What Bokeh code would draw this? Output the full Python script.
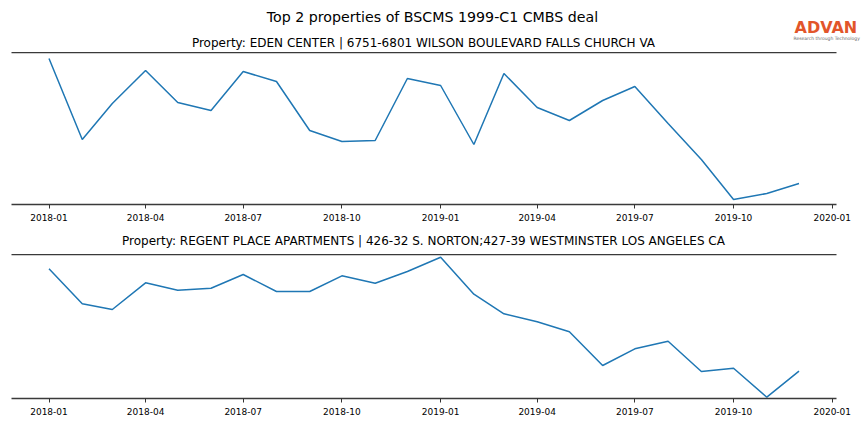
import pandas as pd
from bokeh.plotting import figure
from bokeh.layouts import column
from bokeh.models import (Range1d, MonthsTicker, DatetimeTickFormatter, Label,
                          DatetimeAxis, FixedTicker)
from bokeh.embed import file_html
from bokeh.resources import INLINE

TITLE = "Top 2 properties of BSCMS 1999-C1 CMBS deal"
SUB1 = "Property: EDEN CENTER | 6751-6801 WILSON BOULEVARD FALLS CHURCH VA"
SUB2 = "Property: REGENT PLACE APARTMENTS | 426-32 S. NORTON;427-39 WESTMINSTER LOS ANGELES CA"

months = ["2018-01", "2018-02", "2018-03", "2018-04", "2018-05", "2018-06",
          "2018-07", "2018-08", "2018-09", "2018-10", "2018-11", "2018-12",
          "2019-01", "2019-02", "2019-03", "2019-04", "2019-05", "2019-06",
          "2019-07", "2019-08", "2019-09", "2019-10", "2019-11", "2019-12"]

eden = [146, 65, 101, 134, 102, 94, 133, 123, 74, 63, 64, 126,
        119, 60, 131, 97, 84, 104, 118, 81, 45, 5, 11, 21]

regent = [129.7, 94.7, 89, 115.7, 108.3, 110.3, 124, 107, 107, 122.7, 115.3, 127,
          141.3, 104.3, 84.7, 76.7, 66.7, 33, 49.7, 57.3, 27, 30.3, 1.3, 27.3]

FONT = "DejaVu Sans"
LINE = "#1f77b4"
SPINE = "#3a3a3a"
W = 864
LEFT = 11      # page x of the axes' left edge
AXW = 825      # width of the axes area

dates = pd.to_datetime(months)
span = dates.max() - dates.min()
x_start = dates.min() - 0.05 * span   # matplotlib-style 5% margins
x_end = dates.max() + 0.05 * span
per_px = (x_end - x_start) / AXW
full_start = x_start - LEFT * per_px
full_end = x_end + (W - LEFT - AXW) * per_px


def header(height, texts):
    h = figure(frame_width=W, frame_height=height, output_backend="svg",
               toolbar_location=None,
               x_range=Range1d(0, W), y_range=Range1d(height, 0),
               x_axis_type=None, y_axis_type=None, min_border=0)
    h.outline_line_color = None
    h.grid.visible = False
    for (x, y, t, size, color, style, align) in texts:
        h.add_layout(Label(x=x, y=y, text=t, text_font=FONT, text_font_size=size,
                           text_color=color, text_font_style=style, text_align=align,
                           text_baseline="middle"))
    return h


def panel(vals, fh, ymax):
    p = figure(frame_width=W, frame_height=fh, output_backend="svg",
               toolbar_location=None, x_axis_type="datetime", y_axis_type=None,
               x_range=Range1d(full_start, full_end), y_range=Range1d(0, ymax),
               min_border=0, min_border_bottom=26)
    p.outline_line_color = None
    p.grid.visible = False
    p.line(dates, vals, line_color=LINE, line_width=1.5)
    ax = p.xaxis[0]
    ax.bounds = (x_start, x_end)
    ax.ticker = MonthsTicker(months=[0, 3, 6, 9])
    ax.formatter = DatetimeTickFormatter(days="%Y-%m", months="%Y-%m", years="%Y-%m")
    ax.axis_line_color = SPINE
    ax.axis_line_width = 1.6
    ax.major_tick_line_color = "#333333"
    ax.major_tick_in = 0
    ax.major_tick_out = 4
    ax.minor_tick_line_color = None
    ax.major_label_standoff = 5
    ax.major_label_text_font = FONT
    ax.major_label_text_font_size = "9px"
    ax.major_label_text_color = "#000000"
    top = DatetimeAxis(bounds=(x_start, x_end), ticker=FixedTicker(ticks=[]),
                       axis_line_color=SPINE, axis_line_width=1.6,
                       major_tick_line_color=None, minor_tick_line_color=None,
                       major_tick_out=0, major_tick_in=0, minor_tick_out=0,
                       major_label_standoff=0, major_label_text_font_size="0px")
    p.add_layout(top, "above")
    return p


h1 = header(52, [
    (432, 16, TITLE, "14.2px", "#000000", "normal", "center"),
    (423, 42, SUB1, "12px", "#000000", "normal", "center"),
    (794, 27, "ADVAN", "16px", "#E2552A", "bold", "left"),
    (793, 38, "Research through Technology", "4.5px", "#666666", "normal", "left"),
])
p1 = panel(eden, 152, 152)
h2 = header(24, [(423, 10, SUB2, "12px", "#000000", "normal", "center")])
p2 = panel(regent, 144, 144)

layout = column(h1, p1, h2, p2, spacing=0)
open("out.html", "w").write(file_html(layout, INLINE))
